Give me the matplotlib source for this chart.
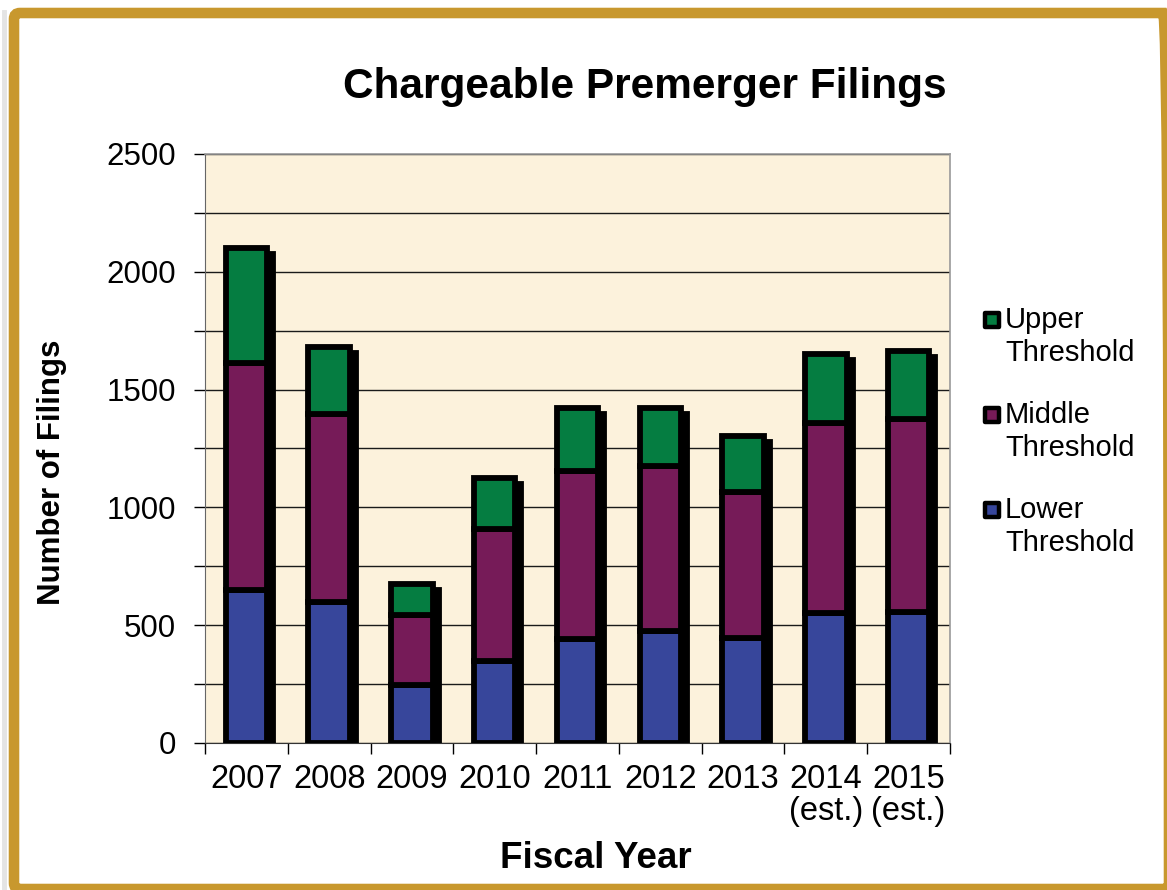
import numpy as np
import matplotlib
matplotlib.use('Agg')
import matplotlib.pyplot as plt
import matplotlib.transforms as mtransforms
from matplotlib.patches import Rectangle, FancyBboxPatch
from matplotlib.lines import Line2D

plt.rcParams['font.family'] = ['Liberation Sans', 'DejaVu Sans']

years = ['2007', '2008', '2009', '2010', '2011', '2012', '2013', '2014\n(est.)', '2015\n(est.)']
lower = [650, 600, 245, 350, 440, 475, 445, 550, 555]
middle = [965, 795, 300, 560, 715, 700, 620, 810, 820]
upper = [485, 285, 130, 215, 265, 245, 240, 290, 290]
legend_labels = ['Upper\nThreshold', 'Middle\nThreshold', 'Lower\nThreshold']

c_lower = '#37469B'
c_middle = '#761B58'
c_upper = '#057D41'

W, H = 1167, 890
fig = plt.figure(figsize=(W / 100, H / 100), dpi=100)
fig.patch.set_facecolor('white')

# gold frame in pixel coords (origin bottom-left), cut off at right/bottom
px = mtransforms.IdentityTransform()
fig.lines.append(Line2D([4, 4], [0, 878], transform=px, color='#e4e4e4', linewidth=3.5, zorder=0))
frame = FancyBboxPatch((14, 1), 1155, 876, boxstyle='round,pad=0,rounding_size=6',
                       mutation_aspect=1, transform=px, facecolor='none',
                       edgecolor='#C8982E', linewidth=7.6, zorder=1)
fig.patches.append(frame)

ax = fig.add_axes([205 / W, 147 / H, 745 / W, 589 / H])
ax.set_facecolor('#FCF2DC')

x = np.arange(len(years))
w = 0.5
lower = np.array(lower)
middle = np.array(middle)
upper = np.array(upper)
total = lower + middle + upper

# drop shadow behind each stack
shadow = mtransforms.offset_copy(ax.transData, fig=fig, x=6, y=-6, units='dots')
ax.bar(x, total, w, color='black', edgecolor='black', linewidth=4.2,
       transform=shadow, zorder=2)

ax.bar(x, lower, w, color=c_lower, edgecolor='black', linewidth=4.2, zorder=3)
ax.bar(x, middle, w, bottom=lower, color=c_middle, edgecolor='black', linewidth=4.2, zorder=3)
ax.bar(x, upper, w, bottom=lower + middle, color=c_upper, edgecolor='black', linewidth=4.2, zorder=3)

ax.set_xlim(-0.5, len(years) - 0.5)
ax.set_ylim(0, 2500)
ax.set_yticks(np.arange(0, 2501, 500))
ax.set_yticks(np.arange(250, 2500, 500), minor=True)
ax.yaxis.grid(True, which='both', color='#1a1a1a', linewidth=1.0)
ax.set_axisbelow(True)

ax.set_xticks(x)
ax.set_xticklabels(years, linespacing=1.05)
ax.set_xticks(np.arange(-0.5, len(years)), minor=True)
ax.tick_params(axis='x', which='major', length=0, pad=15, labelsize=23.5)
ax.tick_params(axis='x', which='minor', length=8, width=1, direction='out')
ax.tick_params(axis='y', which='both', length=8, width=1, direction='out', pad=13, labelsize=22.5)

for s in ['top', 'right']:
    ax.spines[s].set_color('#999999')
    ax.spines[s].set_linewidth(1.2)
ax.spines['left'].set_color('#666666')
ax.spines['bottom'].set_color('#333333')

fig.text(645 / W, 1 - 87 / H, 'Chargeable Premerger Filings', fontsize=30.5,
         fontweight='bold', ha='center', va='center')
fig.text(596 / W, 1 - 858 / H, 'Fiscal Year', fontsize=26.5,
         fontweight='bold', ha='center', va='center')
fig.text(52 / W, 1 - 472 / H, 'Number of Filings', fontsize=22.5,
         fontweight='bold', ha='center', va='center', rotation=90)

# legend, drawn by hand so the key sits beside the first text line
for i, (lab, col) in enumerate(zip(legend_labels, [c_upper, c_middle, c_lower])):
    yc = 320 + 95 * i          # centre of first line, px from top
    fig.patches.append(Rectangle((984.5, H - yc - 7), 14, 14, transform=px,
                                 facecolor=col, edgecolor='black', linewidth=3.2,
                                 joinstyle='round', zorder=3))
    fig.text(1005 / W, 1 - (yc + 16.5) / H, lab, fontsize=21, ha='left', va='center',
             linespacing=1.2)

fig.savefig('out.png', dpi=100)
